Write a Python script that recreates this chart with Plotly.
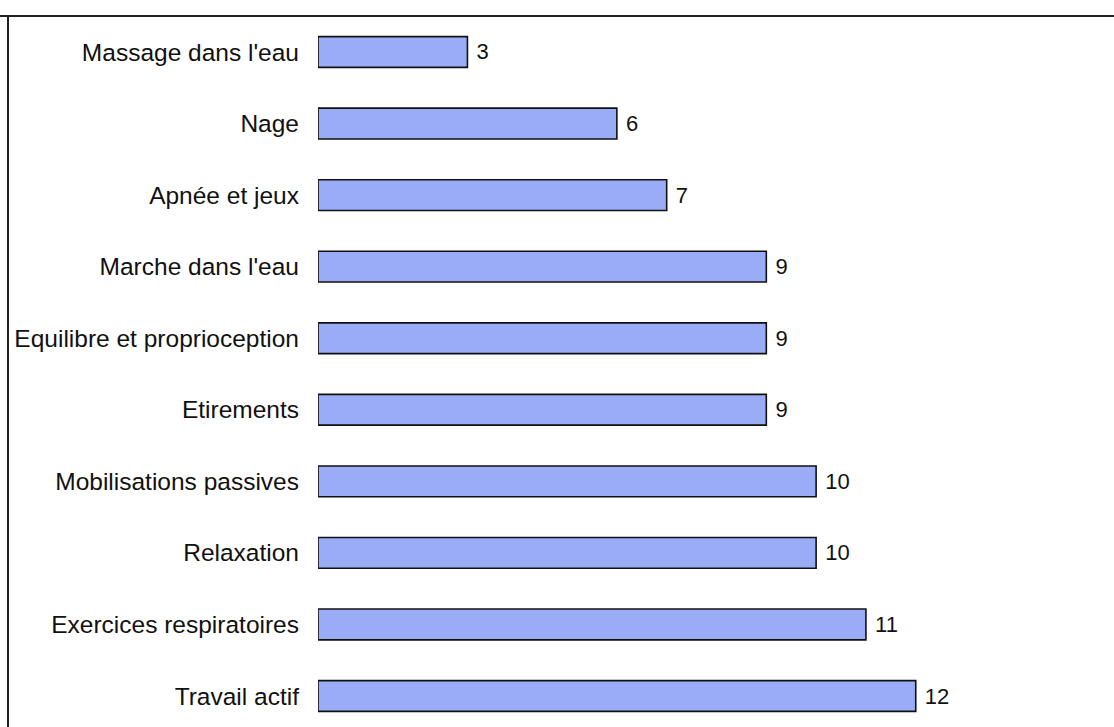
import plotly.graph_objects as go

categories = ["Massage dans l'eau", "Nage", "Apnée et jeux", "Marche dans l'eau",
              "Equilibre et proprioception", "Etirements", "Mobilisations passives",
              "Relaxation", "Exercices respiratoires", "Travail actif"]
values = [3, 6, 7, 9, 9, 9, 10, 10, 11, 12]

fig = go.Figure(go.Bar(
    x=values, y=categories, orientation="h",
    marker=dict(color="#9aacf6", line=dict(color="#111111", width=1.6)),
    width=0.43,
    text=[str(v) for v in values], textposition="outside",
    texttemplate=" %{text}",
    constraintext="none",
    textfont=dict(family="Liberation Sans, Arial", size=22, color="#111111"),
    cliponaxis=False,
))

fig.update_layout(
    width=1114, height=727,
    margin=dict(l=318, r=0, t=16, b=0),
    paper_bgcolor="white", plot_bgcolor="white",
    showlegend=False,
    font=dict(family="Liberation Sans, Arial", size=24.5, color="#111111"),
    xaxis=dict(range=[0, 15.98], visible=False, showgrid=False, zeroline=False),
    yaxis=dict(categoryorder="array", categoryarray=categories,
               range=[9.433, -0.503], showgrid=False, zeroline=False,
               showline=False, ticks="", ticklabelstandoff=18,
               tickfont=dict(size=24.5, color="#111111")),
    shapes=[
        dict(type="line", xref="paper", yref="paper", x0=-318/796, x1=1.0,
             y0=1.0, y1=1.0, line=dict(color="#222222", width=2)),
        dict(type="line", xref="paper", yref="paper", x0=-310/796, x1=-310/796,
             y0=1.0, y1=-0.05, line=dict(color="#222222", width=2)),
    ],
)

fig.write_html("out.html")
